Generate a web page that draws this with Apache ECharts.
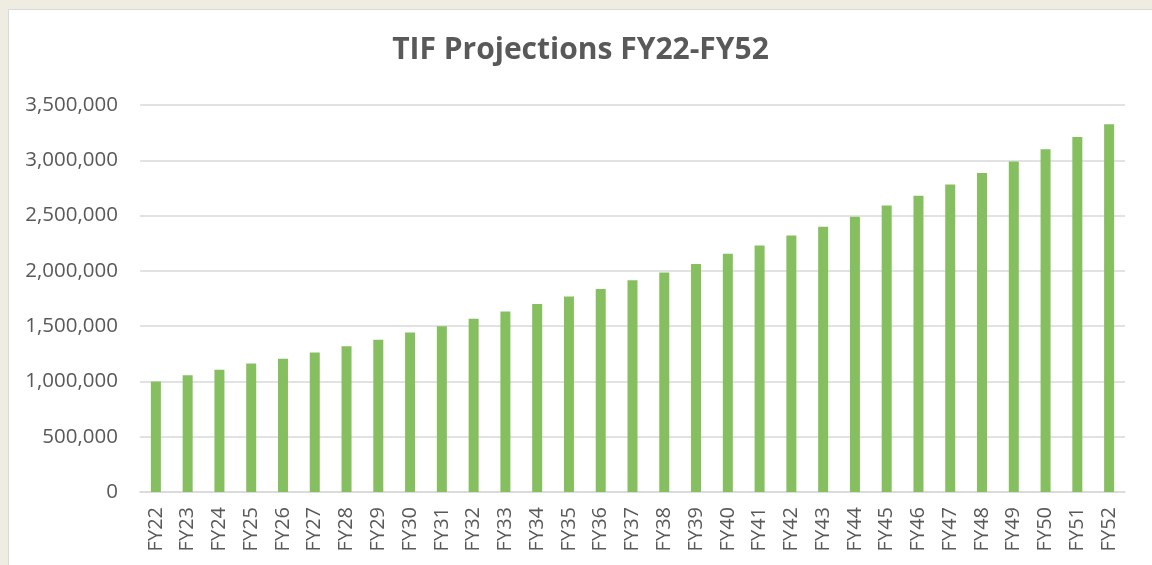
<!DOCTYPE html>
<html>
<head>
<meta charset="utf-8">
<script src="https://cdn.jsdelivr.net/npm/echarts@6/dist/echarts.min.js"></script>
<style>
html,body{margin:0;padding:0;width:1152px;height:565px;background:#EFECE1;overflow:hidden;}
#chart{position:absolute;left:8px;top:9px;width:1144px;height:556px;background:#fff;border-top:1px solid #D9D9D9;border-left:1px solid #D9D9D9;box-sizing:border-box;}
</style>
</head>
<body>
<div id="chart"></div>
<script>
const titleText = 'TIF Projections FY22-FY52';
const categories = ['FY22','FY23','FY24','FY25','FY26','FY27','FY28','FY29','FY30','FY31','FY32','FY33','FY34','FY35','FY36','FY37','FY38','FY39','FY40','FY41','FY42','FY43','FY44','FY45','FY46','FY47','FY48','FY49','FY50','FY51','FY52'];
const values = [1000000,1057000,1106000,1163000,1205000,1262000,1319000,1377000,1443000,1500000,1566000,1632000,1701000,1767000,1837000,1915000,1985000,2063000,2154000,2229000,2320000,2400000,2490000,2592000,2680000,2782000,2885000,2988000,3099000,3210000,3325000];
const yMin = 0, yMax = 3500000, yInterval = 500000;

const chart = echarts.init(document.getElementById('chart'));
chart.setOption({
  animation: false,
  title: {
    text: titleText,
    left: 'center',
    top: 20,
    textStyle: {fontFamily: 'Open Sans', fontWeight: 'bold', fontSize: 30, color: '#595959'}
  },
  grid: {left: 131, right: 27, top: 95, bottom: 73, containLabel: false},
  xAxis: {
    type: 'category',
    data: categories,
    axisLine: {lineStyle: {color: '#D9D9D9', width: 1.5}},
    axisTick: {show: false},
    axisLabel: {rotate: 90, interval: 0, margin: 15, fontFamily: 'Open Sans', fontSize: 20, color: '#595959'}
  },
  yAxis: {
    type: 'value',
    min: yMin, max: yMax, interval: yInterval,
    axisLine: {show: false},
    axisTick: {show: false},
    splitLine: {lineStyle: {color: '#D9D9D9', width: 1.5}},
    axisLabel: {
      margin: 22, fontFamily: 'Open Sans', fontSize: 20.5, color: '#595959',
      formatter: v => v.toLocaleString('en-US')
    }
  },
  series: [{
    type: 'bar',
    data: values,
    barWidth: 10,
    itemStyle: {color: '#86BF60'}
  }]
});
</script>
</body>
</html>
